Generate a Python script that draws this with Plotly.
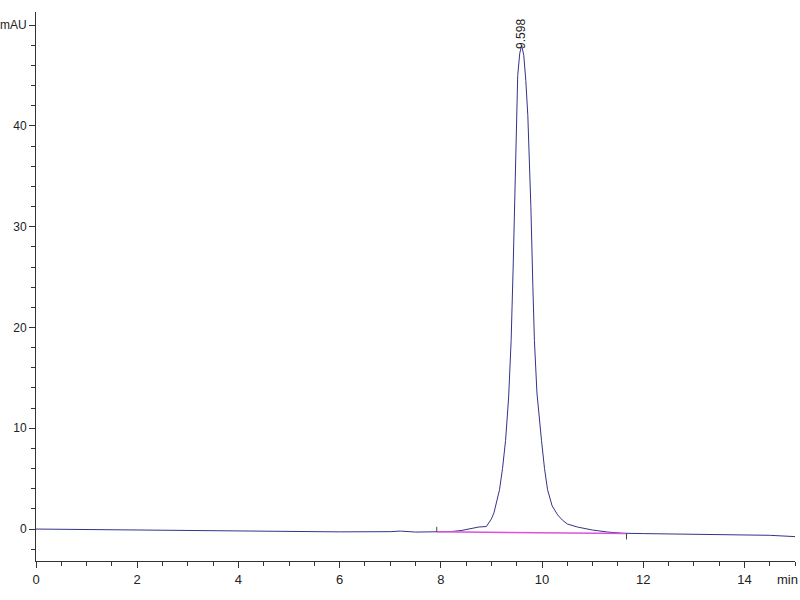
import plotly.graph_objects as go

# Chromatogram trace (time in min, signal in mAU)
time_min = [0, 1, 2, 3, 4, 5, 6, 7, 7.2, 7.5, 7.92, 8.2, 8.4, 8.6, 8.75, 8.9, 9.0, 9.05,
            9.1, 9.16, 9.22, 9.28, 9.34, 9.39, 9.43, 9.46, 9.49, 9.52, 9.56, 9.598,
            9.64, 9.68, 9.72, 9.75, 9.78, 9.82, 9.85, 9.9, 9.95, 9.99, 10.05, 10.11,
            10.2, 10.31, 10.4, 10.5, 10.7, 11.0, 11.3, 11.6, 12, 13, 14, 14.5, 15]
signal_mau = [0.0, -0.05, -0.12, -0.17, -0.22, -0.25, -0.28, -0.26, -0.2, -0.3, -0.28, -0.25,
              -0.15, 0.05, 0.2, 0.25, 1.0, 1.6, 2.6, 3.9, 6.0, 8.8, 13.0, 18.7, 26.0, 32.5,
              41.5, 45.0, 47.2, 48.0, 47.0, 44.5, 41.0, 37.0, 32.0, 24.0, 18.7, 13.5, 10.5,
              8.8, 6.0, 3.9, 2.3, 1.4, 0.9, 0.5, 0.2, -0.1, -0.3, -0.42, -0.45, -0.5,
              -0.6, -0.62, -0.75]

# Integration baseline
base_time = [7.92, 11.67]
base_value = [-0.28, -0.43]

# Peak label
peak_time = 9.598
peak_height = 47.4
peak_label = "9.598"

# Axis ticks
x_ticks = [0, 2, 4, 6, 8, 10, 12, 14]
y_ticks = [0, 10, 20, 30, 40, 50]
y_tick_text = ["0", "10", "20", "30", "40", "mAU"]
x_unit_label = "min"

FONT = "Arial, Liberation Sans, sans-serif"

fig = go.Figure()
fig.add_trace(go.Scatter(x=time_min, y=signal_mau, mode="lines",
                         line=dict(color="#33338a", width=1), hoverinfo="skip"))
fig.add_trace(go.Scatter(x=base_time, y=base_value, mode="lines",
                         line=dict(color="#e050d8", width=1.5), hoverinfo="skip"))
# integration event markers
fig.add_trace(go.Scatter(x=[base_time[0], base_time[0]], y=[base_value[0], base_value[0] + 0.5],
                         mode="lines", line=dict(color="#444444", width=1), hoverinfo="skip"))
fig.add_trace(go.Scatter(x=[base_time[1], base_time[1]], y=[base_value[1], base_value[1] - 0.6],
                         mode="lines", line=dict(color="#444444", width=1), hoverinfo="skip"))

fig.add_annotation(x=peak_time, y=peak_height, text=peak_label, textangle=-90,
                   showarrow=False, yanchor="bottom", xanchor="center",
                   font=dict(family=FONT, size=12, color="#222222"))
fig.add_annotation(x=14.86, xref="x", y=0, yref="paper", yanchor="top", text=x_unit_label,
                   showarrow=False, yshift=-9,
                   font=dict(family=FONT, size=13, color="#222222"))

fig.update_layout(
    width=800, height=600, showlegend=False,
    paper_bgcolor="white", plot_bgcolor="white",
    margin=dict(l=36, r=5, t=12, b=39, autoexpand=False),
    font=dict(family=FONT, size=13, color="#222222"),
)
fig.update_xaxes(range=[0, 15], tickvals=x_ticks, ticks="outside", ticklen=6, tickcolor="#333",
                 showline=True, linecolor="#333", linewidth=1, showgrid=False, zeroline=False,
                 automargin=False,
                 minor=dict(dtick=0.5, ticks="outside", ticklen=4, tickcolor="#333"))
fig.update_yaxes(range=[-3.17, 51.3], tickvals=y_ticks, ticktext=y_tick_text, ticks="outside",
                 ticklen=6, tickcolor="#333", showline=True, linecolor="#333", linewidth=1,
                 showgrid=False, zeroline=False, automargin=False,
                 tickfont=dict(size=12),
                 minor=dict(dtick=2, ticks="outside", ticklen=4, tickcolor="#333"))

fig.write_html("out.html", config={"displayModeBar": False},
               post_script="document.body.style.margin='0';")
